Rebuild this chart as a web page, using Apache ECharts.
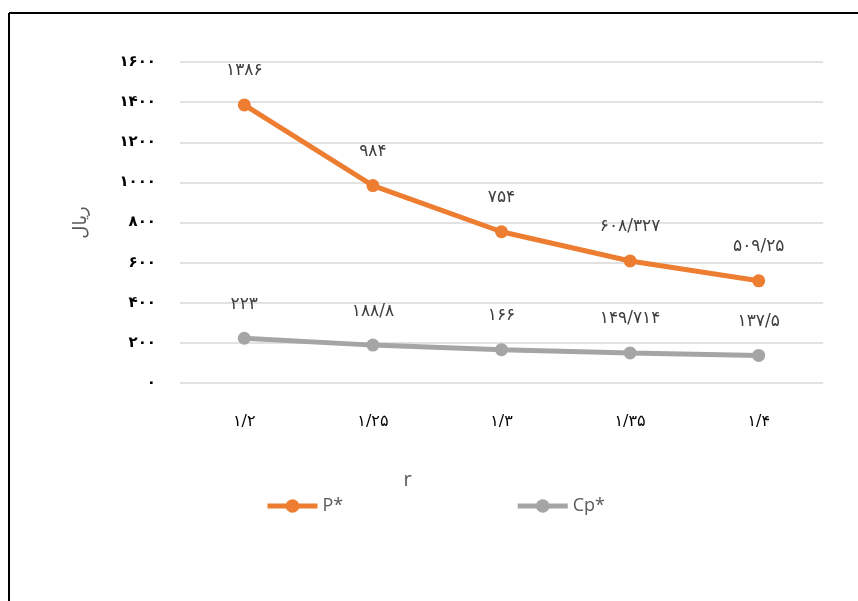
<!DOCTYPE html>
<html>
<head>
<meta charset="utf-8">
<style>
  html, body { margin: 0; padding: 0; background: #fff; }
  #chart { width: 858px; height: 601px; }
</style>
<script src="https://cdn.jsdelivr.net/npm/echarts@6/dist/echarts.min.js"></script>
</head>
<body>
<div id="chart"></div>
<script>
// r values on the horizontal axis
const categories = ['۱/۲', '۱/۲۵', '۱/۳', '۱/۳۵', '۱/۴'];
// optimal price and unit cost (ریال)
const pStar = [1386, 984, 754, 608.327, 509.25];
const cpStar = [223, 188.8, 166, 149.714, 137.5];
// point labels as printed
const pLabels = ['۱۳۸۶', '۹۸۴', '۷۵۴', '۶۰۸/۳۲۷', '۵۰۹/۲۵'];
const cpLabels = ['۲۲۳', '۱۸۸/۸', '۱۶۶', '۱۴۹/۷۱۴', '۱۳۷/۵'];

const faDigits = '۰۱۲۳۴۵۶۷۸۹';
const toFa = v => String(v).replace(/\d/g, d => faDigits[d]);

const font = '"DejaVu Sans", "Noto Sans", sans-serif';

const chart = echarts.init(document.getElementById('chart'), null, { renderer: 'canvas' });

function series(name, values, labels, color) {
  return {
    name: name,
    type: 'line',
    data: values,
    symbol: 'circle',
    symbolSize: 13,
    lineStyle: { width: 5, color: color },
    itemStyle: { color: color },
    label: {
      show: true,
      position: 'top',
      distance: 19,
      color: '#404040',
      fontSize: 17,
      fontFamily: font,
      formatter: p => labels[p.dataIndex]
    },
    animation: false
  };
}

chart.setOption({
  backgroundColor: '#fff',
  animation: false,
  graphic: [
    { type: 'line', shape: { x1: 9, y1: 13, x2: 858, y2: 13 }, style: { stroke: '#000', lineWidth: 2 } },
    { type: 'line', shape: { x1: 9, y1: 13, x2: 9, y2: 601 }, style: { stroke: '#000', lineWidth: 2 } }
  ],
  grid: { left: 180, right: 35, top: 62, bottom: 218 },
  legend: {
    left: 260,
    top: 492,
    itemWidth: 50,
    itemHeight: 17,
    itemGap: 172,
    lineStyle: { width: 5 },
    textStyle: { color: '#595959', fontSize: 18, fontFamily: '"Open Sans", sans-serif' },
    data: ['P*', 'Cp*']
  },
  xAxis: {
    type: 'category',
    data: categories,
    boundaryGap: true,
    axisLine: { show: false },
    axisTick: { show: false },
    axisLabel: { color: '#000', fontSize: 16, fontFamily: font, margin: 31 },
    name: 'r',
    nameLocation: 'middle',
    nameGap: 87,
    nameTextStyle: { color: '#595959', fontSize: 20, fontFamily: '"Open Sans", sans-serif', padding: [0, 188, 0, 0] }
  },
  yAxis: {
    type: 'value',
    min: 0,
    max: 1600,
    interval: 200,
    axisLine: { show: false },
    axisTick: { show: false },
    splitLine: { lineStyle: { color: '#d9d9d9', width: 1.5 } },
    axisLabel: { color: '#000', fontSize: 15, fontWeight: 'bold', fontFamily: font, margin: 24, formatter: v => toFa(v) },
    name: 'ریال',
    nameLocation: 'middle',
    nameGap: 90,
    nameTextStyle: { color: '#595959', fontSize: 18, fontFamily: font }
  },
  series: [
    series('P*', pStar, pLabels, '#ed7d31'),
    series('Cp*', cpStar, cpLabels, '#a5a5a5')
  ]
});
</script>
</body>
</html>
